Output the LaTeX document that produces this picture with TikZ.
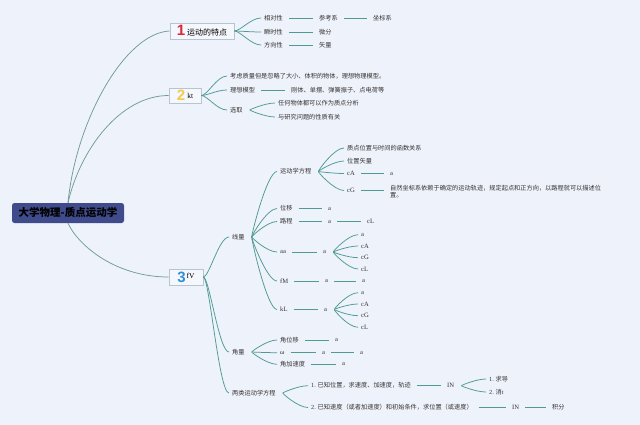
\documentclass[tikz,border=0pt]{standalone}
\usepackage{fontspec}
\setmainfont{Liberation Serif}
\newfontfamily\cjk{Noto Sans CJK SC}
\newfontfamily\numfont{Liberation Sans}
\newcommand\lat{\rmfamily}
\definecolor{bgc}{HTML}{EEF2FA}
\definecolor{mainc}{HTML}{6F9B98}
\definecolor{brc}{HTML}{4F9A92}
\definecolor{boxd}{HTML}{B8C4D0}
\definecolor{boxf}{HTML}{F4F7FC}
\definecolor{rootc}{HTML}{3F4B8B}
\definecolor{txc}{HTML}{333333}
\definecolor{redn}{HTML}{E0243A}
\definecolor{yeln}{HTML}{F5C94C}
\definecolor{blun}{HTML}{2F8FD6}
\newcommand\mmfan[2]{\draw[brl] (#1.east) .. controls +(5,0) and +(-12,0) .. (#2.west);}
\newcommand\mmfanb[2]{\draw[brl,shorten <=0pt] (#1.east) .. controls +(6,0) and +(-12,0) .. (#2.west);}
\newcommand\mmln[2]{\draw[lnk] (#1.east) -- (#2.west);}
\tikzset{
  txt/.style={anchor=west, inner sep=1pt, text=txc, font=\cjk\fontsize{6.2}{7.6}\selectfont},
  ltx/.style={anchor=west, inner sep=1pt, text=txc, font=\lat\fontsize{6.6}{7.6}\selectfont},
  brl/.style={draw=brc, line width=0.75pt, shorten <=6pt, shorten >=2pt},
  lnk/.style={draw=brc, line width=0.9pt, shorten <=5pt, shorten >=5pt},
  mainbr/.style={draw=mainc, line width=0.75pt},
  topbox/.style={draw=boxd, fill=boxf, line width=0.6pt, inner sep=1pt},
}
\begin{document}
\begin{tikzpicture}[x=1pt,y=-1pt]
\useasboundingbox (0,0) rectangle (640,425);
\fill[bgc] (0,0) rectangle (640,425);

% root
\node[fill=rootc, rounded corners=2.5pt, minimum width=112pt, minimum height=20pt, inner sep=0pt,
      font=\cjk\bfseries\fontsize{10.5}{12}\selectfont, text=black] (root) at (68,213) {大学物理-质点运动学};

% level 1 boxes
\node[topbox, minimum width=64pt, minimum height=16pt] (n1) at (202,31)
  {{\numfont\bfseries\fontsize{15}{15}\selectfont\textcolor{redn}{1}}\hspace{2pt}{\cjk\fontsize{8}{9}\selectfont 运动的特点}};
\node[topbox, minimum width=32pt, minimum height=15pt] (n2) at (185,95.5)
  {{\numfont\bfseries\fontsize{15}{15}\selectfont\textcolor{yeln}{2}}\hspace{2pt}\raisebox{2pt}{\lat\fontsize{7.5}{8}\selectfont kt}};
\node[topbox, minimum width=34pt, minimum height=16pt] (n3) at (186,277)
  {{\numfont\bfseries\fontsize{15}{15}\selectfont\textcolor{blun}{3}}\hspace{1pt}\raisebox{4pt}{\lat\fontsize{7.5}{8}\selectfont fV}};

\draw[mainbr] (root.north) .. controls (76,120) and (125,33) .. (n1.west);
\draw[mainbr] (root.north) .. controls (80,150) and (120,95.5) .. (n2.west);
\draw[mainbr] (root.south) .. controls (78,245) and (115,277) .. (n3.west);

% group 1
\node[txt] (n1a) at (263,18) {相对性};
\node[txt] (n1a1) at (318,18) {参考系};
\node[txt] (n1a2) at (372,18) {坐标系};
\node[txt] (n1b) at (263,32) {瞬时性};
\node[txt] (n1b1) at (318,32) {微分};
\node[txt] (n1c) at (263,45) {方向性};
\node[txt] (n1c1) at (318,45) {矢量};
\mmfanb{n1}{n1a} \mmfanb{n1}{n1b} \mmfanb{n1}{n1c}
\mmln{n1a}{n1a1} \mmln{n1a1}{n1a2} \mmln{n1b}{n1b1} \mmln{n1c}{n1c1}

% group 2
\node[txt] (n2a) at (229,76) {考虑质量但是忽略了大小、体积的物体，理想物理模型。};
\node[txt] (n2b) at (229,90) {理想模型};
\node[txt] (n2b1) at (290,90) {刚体、单摆、弹簧振子、点电荷等};
\node[txt] (n2c) at (229,110) {选取};
\node[txt] (n2c1) at (277,103) {任何物体都可以作为质点分析};
\node[txt] (n2c2) at (277,117) {与研究问题的性质有关};
\mmfanb{n2}{n2a} \mmfanb{n2}{n2b} \mmfanb{n2}{n2c}
\mmln{n2b}{n2b1}
\mmfan{n2c}{n2c1} \mmfan{n2c}{n2c2}

% group 3
\node[txt] (x) at (231,237) {线量};
\node[txt] (j) at (231,352) {角量};
\node[txt] (e) at (231,393) {两类运动学方程};
\mmfanb{n3}{x} \mmfanb{n3}{j} \mmfanb{n3}{e}

\node[txt] (x1) at (279,171.5) {运动学方程};
\node[txt] (x2) at (279,208.5) {位移};
\node[txt] (x3) at (279,221.5) {路程};
\node[ltx] (x4) at (279,252) {aa};
\node[ltx] (x5) at (279,281) {fM};
\node[ltx] (x6) at (279,309.5) {kL};
\mmfan{x}{x1} \mmfan{x}{x2} \mmfan{x}{x3} \mmfan{x}{x4} \mmfan{x}{x5} \mmfan{x}{x6}

\node[txt] (x11) at (346,148) {质点位置与时间的函数关系};
\node[txt] (x12) at (346,161) {位置矢量};
\node[ltx] (x13) at (346,173.5) {cA};
\node[ltx] (x13a) at (389,173.5) {a};
\node[ltx] (x14) at (346,190.5) {cG};
\node[txt, align=left] (x14a) at (389,191.5) {自然坐标系依赖于确定的运动轨迹，规定起点和正方向，以路程就可以描述位\\置。};
\mmfan{x1}{x11} \mmfan{x1}{x12} \mmfan{x1}{x13} \mmfan{x1}{x14}
\mmln{x13}{x13a}
\draw[lnk] (x14.east) -- (x14.east -| x14a.west);

\node[ltx] (x2a) at (327,208.5) {a};
\mmln{x2}{x2a}
\node[ltx] (x3a) at (327,221.5) {a};
\node[ltx] (x3b) at (366,221.5) {cL};
\mmln{x3}{x3a} \mmln{x3a}{x3b}

\node[ltx] (x4a) at (322,252) {a};
\node[ltx] (x4b1) at (360,234.7) {a};
\node[ltx] (x4b2) at (360,246) {cA};
\node[ltx] (x4b3) at (360,257.7) {cG};
\node[ltx] (x4b4) at (360,269) {cL};
\mmln{x4}{x4a}
\mmfan{x4a}{x4b1} \mmfan{x4a}{x4b2} \mmfan{x4a}{x4b3} \mmfan{x4a}{x4b4}

\node[ltx] (x5a) at (324,281) {a};
\node[ltx] (x5b) at (361,281) {a};
\mmln{x5}{x5a} \mmln{x5a}{x5b}

\node[ltx] (x6a) at (323,309.5) {a};
\node[ltx] (x6b1) at (360,292.7) {a};
\node[ltx] (x6b2) at (360,304) {cA};
\node[ltx] (x6b3) at (360,315.7) {cG};
\node[ltx] (x6b4) at (360,327.3) {cL};
\mmln{x6}{x6a}
\mmfan{x6a}{x6b1} \mmfan{x6a}{x6b2} \mmfan{x6a}{x6b3} \mmfan{x6a}{x6b4}

% angular
\node[txt] (j1) at (279,340) {角位移};
\node[ltx] (j2) at (279,352.7) {ω};
\node[txt] (j3) at (279,364.3) {角加速度};
\mmfan{j}{j1} \mmfan{j}{j2} \mmfan{j}{j3}
\node[ltx] (j1a) at (334,340) {a};
\node[ltx] (j2a) at (321,352.7) {a};
\node[ltx] (j2b) at (359,352.7) {a};
\node[ltx] (j3a) at (341,364.3) {a};
\mmln{j1}{j1a} \mmln{j2}{j2a} \mmln{j2a}{j2b} \mmln{j3}{j3a}

% equations
\node[txt] (e1) at (310,385.7) {{\lat 1.} 已知位置，求速度、加速度，轨迹};
\node[txt] (e2) at (310,407.5) {{\lat 2.} 已知速度（或者加速度）和初始条件，求位置（或速度）};
\mmfan{e}{e1} \mmfan{e}{e2}
\node[ltx] (e1a) at (446,385.7) {IN};
\node[txt] (e1b1) at (488,379) {{\lat 1.} 求导};
\node[txt] (e1b2) at (488,392) {{\lat 2.} 消{\lat t}};
\mmln{e1}{e1a}
\mmfan{e1a}{e1b1} \mmfan{e1a}{e1b2}
\node[ltx] (e2a) at (511,407.5) {IN};
\node[txt] (e2b) at (551,407.5) {积分};
\mmln{e2}{e2a} \mmln{e2a}{e2b}
\end{tikzpicture}
\end{document}
